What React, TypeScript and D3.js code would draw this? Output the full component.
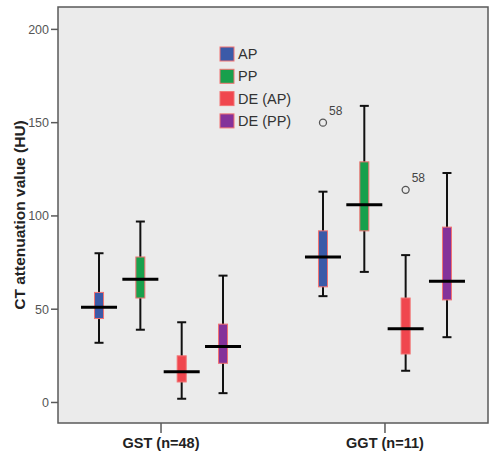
import React from 'react';
import * as d3 from 'd3';

// categories
const groups = ['GST (n=48)', 'GGT (n=11)'];
const seriesNames = ['AP', 'PP', 'DE (AP)', 'DE (PP)'];
const seriesColors = ['#3b5aa8', '#18a04c', '#f0464e', '#84329a'];

// box stats per group: [whisker low, q1, median, q3, whisker high]
const apStats = [[32, 45, 51, 59, 80], [57, 62, 78, 92, 113]];
const ppStats = [[39, 56, 66, 78, 97], [70, 92, 106, 129, 159]];
const deApStats = [[2, 11, 16.5, 25, 43], [17, 26, 39.5, 56, 79]];
const dePpStats = [[5, 21, 30, 42, 68], [35, 55, 65, 94, 123]];
const allStats = [apStats, ppStats, deApStats, dePpStats];

// outliers
const outlierGroups = ['GGT (n=11)', 'GGT (n=11)'];
const outlierSeries = ['AP', 'DE (AP)'];
const outlierValues = [150, 114];
const outlierLabels = ['58', '58'];

const yTicks = [0, 50, 100, 150, 200];

const W = 491;
const H = 457;
const plot = { left: 58, right: 488, top: 7, bottom: 423 };

const App = () => {
  const y = d3.scaleLinear().domain([-11, 212]).range([plot.bottom, plot.top]);
  const x = d3.scalePoint().domain(groups).range([plot.left, plot.right]).padding(0.46);
  const offset = d3.scalePoint().domain(seriesNames).range([-62, 62]);
  const color = d3.scaleOrdinal<string, string>().domain(seriesNames).range(seriesColors);

  const boxW = 9;
  const medW = 36;
  const capW = 9;

  return (
    <svg width={W} height={H} style={{ position: 'absolute', left: 0, top: 0, background: '#fff' }}
      fontFamily="'Liberation Sans', Arial, sans-serif">
      {/* panel */}
      <rect x={plot.left} y={plot.top} width={plot.right - plot.left} height={plot.bottom - plot.top}
        fill="#ebebeb" stroke="#5a5a5a" strokeWidth={1.5} />

      {/* y axis */}
      {yTicks.map(t => (
        <g key={t}>
          <line x1={plot.left - 7} x2={plot.left} y1={y(t)} y2={y(t)} stroke="#5a5a5a" strokeWidth={1.5} />
          <text x={plot.left - 9} y={y(t)} dy="0.35em" textAnchor="end" fontSize={12.5} fill="#555">{t}</text>
        </g>
      ))}
      <text transform={`translate(20,${215}) rotate(-90)`} textAnchor="middle" dy="0.35em"
        fontSize={15.5} fontWeight="bold" fill="#222">CT attenuation value (HU)</text>

      {/* x axis */}
      {groups.map(g => (
        <g key={g}>
          <line x1={x(g)} x2={x(g)} y1={plot.bottom} y2={plot.bottom + 10} stroke="#5a5a5a" strokeWidth={1.5} />
          <text x={x(g)} y={443} dy="0.35em" textAnchor="middle" fontSize={14.5} fontWeight="bold" fill="#222">{g}</text>
        </g>
      ))}

      {/* boxes */}
      {seriesNames.map((s, si) => groups.map((g, gi) => {
        const [lo, q1, med, q3, hi] = allStats[si][gi];
        const cx = (x(g) as number) + (offset(s) as number);
        return (
          <g key={s + g}>
            <line x1={cx} x2={cx} y1={y(hi)} y2={y(lo)} stroke="#111" strokeWidth={2} />
            <line x1={cx - capW / 2} x2={cx + capW / 2} y1={y(hi)} y2={y(hi)} stroke="#111" strokeWidth={2} />
            <line x1={cx - capW / 2} x2={cx + capW / 2} y1={y(lo)} y2={y(lo)} stroke="#111" strokeWidth={2} />
            <rect x={cx - boxW / 2} y={y(q3)} width={boxW} height={y(q1) - y(q3)}
              fill={color(s)} stroke="#f27272" strokeWidth={1} />
            <line x1={cx - medW / 2} x2={cx + medW / 2} y1={y(med)} y2={y(med)} stroke="#000" strokeWidth={3} />
          </g>
        );
      }))}

      {/* outliers */}
      {outlierValues.map((v, i) => {
        const cx = (x(outlierGroups[i]) as number) + (offset(outlierSeries[i]) as number);
        return (
          <g key={i}>
            <circle cx={cx} cy={y(v)} r={3.5} fill="none" stroke="#555" strokeWidth={1.3} />
            <text x={cx + 6} y={y(v) - 8} fontSize={12} fill="#444">{outlierLabels[i]}</text>
          </g>
        );
      })}

      {/* legend */}
      {seriesNames.map((s, i) => (
        <g key={s} transform={`translate(220,${54 + i * 22.3})`}>
          <rect x={0} y={-7} width={14} height={14} fill={color(s)} stroke="#f27272" strokeWidth={1} />
          <text x={18} y={0} dy="0.35em" fontSize={14.5} fill="#333">{s}</text>
        </g>
      ))}
    </svg>
  );
};

export default App;
